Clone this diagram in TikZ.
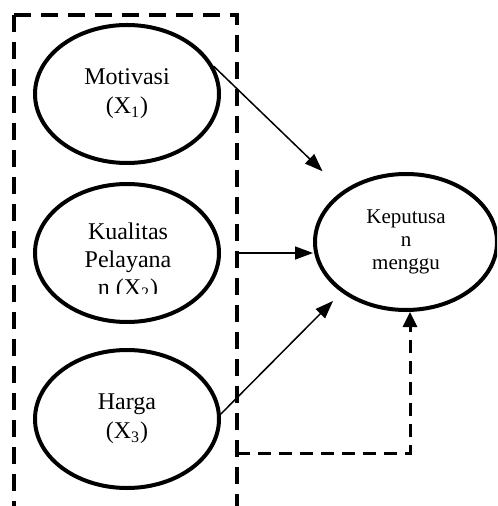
\documentclass[tikz,border=0pt]{standalone}
\usepackage{fontspec}
\setmainfont{Liberation Serif}
\usetikzlibrary{shapes.geometric,arrows.meta}
\begin{document}
\begin{tikzpicture}[x=0.5pt,y=-0.5pt,
  varbox/.style={draw,ellipse,line width=2pt,minimum width=92pt,minimum height=69pt,inner sep=0pt,align=center,font={\fontsize{12}{14.5}\selectfont}},
  rectdash/.style={line width=2.25pt,dash pattern=on 8.5pt off 5pt},
  arr/.style={line width=0.75pt,-{Triangle[length=9pt,width=6.5pt]}},
  darr/.style={line width=1.5pt,dash pattern=on 6.5pt off 4pt,-{Triangle[length=7.5pt,width=7pt]}}]
\useasboundingbox (0,0) rectangle (497,506);
\begin{scope}
\clip (0,0) rectangle (497,506);
% dashed frame
\draw[rectdash] (14,15) -- (14,520);
\draw[rectdash] (14,15) -- (237,15) -- (237,520);
% variables
\node[varbox] (m) at (127,94) {Motivasi\\(X\textsubscript{1})};
\node[varbox] (q) at (127,253) {};
\node[varbox] (h) at (127,419) {Harga\\(X\textsubscript{3})};
\node[varbox,minimum width=91pt,minimum height=68pt,font={\fontsize{10.5}{11.5}\selectfont}] (k) at (406,242) {Keputusa\\n\\menggu};
\begin{scope}
\clip (40,200) rectangle (215,294);
\node[align=center,inner sep=0pt,anchor=north,font={\fontsize{12}{14}\selectfont}] (qt) at (128,222) {Kualitas\\Pelayana\\n (X\textsubscript{2})};
\end{scope}
% connectors
\draw[arr,shorten >=14pt] (m.18) -- (k.141);
\draw[arr,shorten <=8.5pt] (q.east) -- (q.east -| k.west);
\draw[arr,shorten >=6pt] (h.3) -- (k.218);
\coordinate (d0) at (237,453);
\draw[darr] (d0) -| ([xshift=2pt]k.south);
\end{scope}
\end{tikzpicture}
\end{document}
